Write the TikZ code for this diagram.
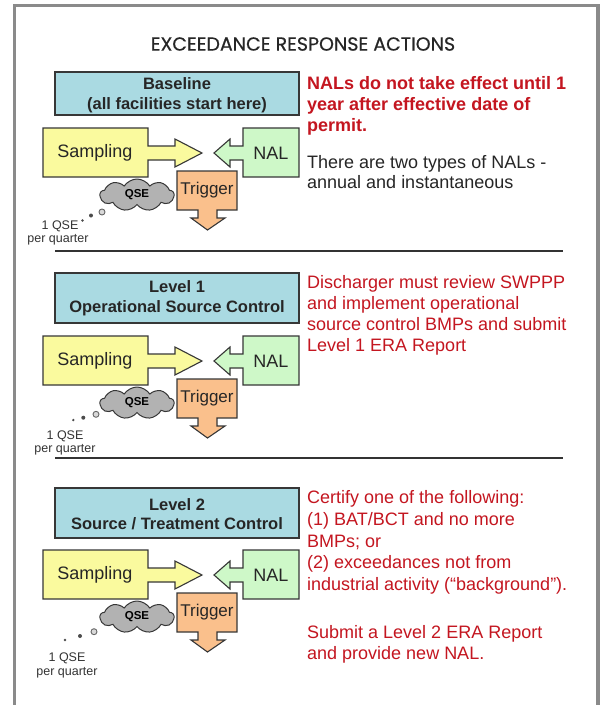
\documentclass[tikz,border=0pt]{standalone}
\usepackage{fontspec}
\setmainfont{Liberation Sans}
\newfontfamily\titlefont[FakeBold=0.5]{Poppins}
\usetikzlibrary{shapes.symbols}

\definecolor{framegray}{RGB}{138,138,138}
\definecolor{edgegray}{RGB}{55,55,55}
\definecolor{levelblue}{RGB}{170,218,226}
\definecolor{sampyellow}{RGB}{250,250,158}
\definecolor{nalgreen}{RGB}{206,248,200}
\definecolor{trigpeach}{RGB}{250,192,140}
\definecolor{cloudgray}{RGB}{178,178,178}
\definecolor{notered}{RGB}{196,22,32}

\tikzset{
  shapeline/.style={draw=edgegray, line width=1.1pt, line join=miter},
  levelbox/.style={draw=edgegray, line width=1.1pt, fill=levelblue},
  leveltext/.style={font=\bfseries\fontsize{16.5}{19.5}\selectfont, text=black!85, align=center, inner sep=0pt},
  bigtext/.style={font=\fontsize{18}{21}\selectfont, text=black!85, inner sep=0pt},
  trigtext/.style={font=\fontsize{17}{20}\selectfont, text=black!85, inner sep=0pt},
  qsecloud/.style={cloud, cloud puffs=9, cloud puff arc=115, aspect=2.6,
    minimum width=74pt, minimum height=32pt, inner sep=0pt,
    draw=edgegray, line width=1pt, fill=cloudgray,
    font=\bfseries\fontsize{11.5}{13}\selectfont},
  smalltext/.style={font=\fontsize{12.5}{14}\selectfont, text=black!80, inner sep=0pt},
  rednote/.style={font=\fontsize{18}{21}\selectfont, text=notered, align=left, anchor=north west, inner sep=0pt},
  blacknote/.style={font=\fontsize{18}{20}\selectfont, text=black!85, align=left, anchor=north west, inner sep=0pt},
  rule/.style={draw=black!80, line width=1.3pt},
  bubble/.style={fill=black!70},
  openbubble/.style={draw=black!60, line width=0.9pt, fill=black!15}
}

% One Sampling / NAL / Trigger / QSE row; #1 = name suffix, #2 = vertical offset
\newcommand\actionrow[2]{%
  \begin{scope}[shift={(0,#2)}]
    \draw[shapeline, fill=sampyellow]
      (43,0) -- (148,0) -- (148,18) -- (175,18) -- (175,11) -- (202,25)
      -- (175,39) -- (175,32) -- (148,32) -- (148,49) -- (43,49) -- cycle;
    \node[bigtext] (samp#1) at (95,25) {Sampling};
    \draw[shapeline, fill=nalgreen]
      (299,0) -- (243,0) -- (243,18) -- (230,18) -- (230,11) -- (214,25)
      -- (230,39) -- (230,32) -- (243,32) -- (243,49) -- (299,49) -- cycle;
    \node[bigtext] (nal#1) at (271,25) {NAL};
    \draw[shapeline, fill=trigpeach]
      (177,43) -- (237,43) -- (237,82) -- (217,82) -- (217,90) -- (225,90)
      -- (207.5,102) -- (191,90) -- (198,90) -- (198,82) -- (177,82) -- cycle;
    \node[trigtext] (trig#1) at (207,62) {Trigger};
    \node[qsecloud] (qse#1) at (137,67) {QSE};
  \end{scope}}

\begin{document}
\begin{tikzpicture}[x=1pt,y=-1pt]
  \useasboundingbox (0,0) rectangle (603,705);
  \fill[white] (0,0) rectangle (603,705);

  % page frame (open at the bottom)
  \draw[framegray, line width=3.5pt] (14.5,710) -- (14.5,5.5) -- (598,5.5) -- (598,710);

  \node[font=\titlefont\fontsize{19}{22}\selectfont, text=black!85] (title) at (303,44)
    {EXCEEDANCE RESPONSE ACTIONS};

  % ---------- Baseline ----------
  \draw[levelbox] (55,72) rectangle (299,115);
  \node[leveltext] (base) at (177,95) {Baseline\\(all facilities start here)};
  \actionrow{A}{128}
  \fill[bubble] (82.5,220.5) circle (1.3);
  \fill[bubble] (91,215.5) circle (2);
  \draw[openbubble] (102,212) circle (3);
  \node[smalltext] (qseA) at (60,226) {1 QSE};
  \node[smalltext] (perA) at (58,240) {per quarter};
  \node[rednote, font=\bfseries\fontsize{18}{21}\selectfont] (noteA) at (307,76.5)
    {NALs do not take effect until 1\\year after effective date of\\permit.};
  \node[blacknote] (typesA) at (307,155.5)
    {There are two types of NALs -\\annual and instantaneous};
  \draw[rule] (55,251) -- (563,251);

  % ---------- Level 1 ----------
  \draw[levelbox] (55,273) rectangle (299,323);
  \node[leveltext] (lev1) at (177,298) {Level 1\\Operational Source Control};
  \actionrow{B}{336}
  \fill[bubble] (73.3,420) circle (1.3);
  \fill[bubble] (83.3,417.7) circle (2);
  \draw[openbubble] (96,414.3) circle (3);
  \node[smalltext] (qseB) at (65,436) {1 QSE};
  \node[smalltext] (perB) at (65,450) {per quarter};
  \node[rednote] (noteB) at (307,275.5)
    {Discharger must review SWPPP\\and implement operational\\source control BMPs and submit\\Level 1 ERA Report};
  \draw[rule] (55,458) -- (563,458);

  % ---------- Level 2 ----------
  \draw[levelbox] (55,488) rectangle (299,538);
  \node[leveltext] (lev2) at (177,514) {Level 2\\Source / Treatment Control};
  \actionrow{C}{550}
  \fill[bubble] (65,640) circle (1.4);
  \fill[bubble] (80,636) circle (2);
  \draw[openbubble] (94,631.7) circle (3);
  \node[smalltext] (qseC) at (67,658) {1 QSE};
  \node[smalltext] (perC) at (67,673) {per quarter};
  \node[rednote, font=\fontsize{18}{21.7}\selectfont] (noteC) at (307,490.5)
    {Certify one of the following:\\(1) BAT/BCT and no more\\BMPs; or\\(2) exceedances not from\\industrial activity (``background'').};
  \node[rednote] (submitC) at (307,625.5)
    {Submit a Level 2 ERA Report\\and provide new NAL.};
\end{tikzpicture}
\end{document}
